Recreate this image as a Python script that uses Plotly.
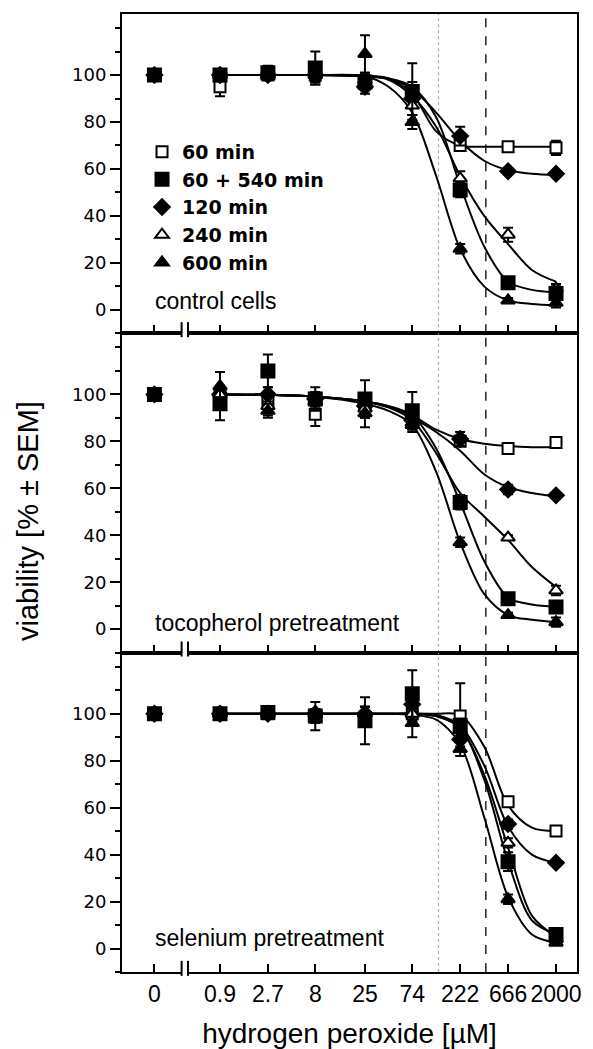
import plotly.graph_objects as go
from plotly.subplots import make_subplots

# ---------------- data ----------------
DOSES = [0, 0.9, 2.7, 8, 25, 74, 222, 666, 2000]
DOSE_LABELS = ["0", "0.9", "2.7", "8", "25", "74", "222", "666", "2000"]
CURVE_DOSES = [0.9, 2.7, 8, 25, 43, 74, 128, 222, 385, 666, 1150, 2000]
SERIES = ["60 min", "60 + 540 min", "120 min", "240 min", "600 min"]
PANELS = ["control cells", "tocopherol pretreatment", "selenium pretreatment"]
REF_DOTTED = 135     # µM, dotted reference line
REF_DASHED = 400     # µM, dashed reference line

# control cells
control_60 = [100, 95, 100, 100, 97, 93, 70, 69.5, 69]
control_60_err = [0, 4, 2, 3, 3, 4, 2, 1, 3]
control_60_540 = [100, 100, 101, 103, 97, 93, 51, 11.5, 7]
control_60_540_err = [0, 2, 3, 7, 3, 12, 3, 2, 3]
control_120 = [100, 100, 100, 100, 95, 90, 74, 59, 58]
control_120_err = [0, 1, 2, 3, 3, 4, 4, 1, 1]
control_240 = [100, 100, 100, 100, 98, 87, 56, 32, 9]
control_240_err = [0, 1, 2, 3, 3, 4, 3, 3, 2]
control_600 = [100, 100, 100, 100, 109, 80, 26, 4, 3]
control_600_err = [0, 1, 2, 4, 8, 3, 2, 1, 2]

control_60_fit = [100, 100, 100, 99.8, 98.5, 92, 76, 70, 69.5, 69.5, 69.5, 69.5]
control_60_540_fit = [100, 100, 100, 99.5, 98.5, 95, 82, 53, 27, 12, 8.5, 7.5]
control_120_fit = [100, 100, 100, 99.5, 98.5, 94, 84, 72, 63.5, 59.5, 58, 57.5]
control_240_fit = [100, 100, 100, 99.5, 98, 91, 78, 57, 40, 28, 17, 12]
control_600_fit = [100, 100, 100, 99.5, 95, 84, 57, 26, 10, 4, 2.5, 2]

# tocopherol pretreatment
toco_60 = [100, 100, 97, 91.5, 96, 91, 80, 77, 79.5]
toco_60_err = [0, 3, 3, 5, 3, 3, 2, 2, 2]
toco_60_540 = [100, 96, 110, 98, 98, 93, 54, 13, 9.5]
toco_60_540_err = [0, 7, 7, 5, 8, 8, 3, 2, 2]
toco_120 = [100, 100, 100, 98, 95, 89, 81, 59.5, 57]
toco_120_err = [0, 3, 3, 3, 3, 3, 3, 2, 1]
toco_240 = [100, 100, 95, 97, 94, 88, 55, 39, 16.5]
toco_240_err = [0, 3, 4, 3, 4, 3, 2, 1, 2]
toco_600 = [100, 103.5, 93, 97, 92, 87, 37, 6, 3]
toco_600_err = [0, 6, 3, 3, 6, 3, 2, 1, 2]

toco_60_fit = [100, 99.8, 99, 97, 95, 91, 85, 81, 79, 78, 77.5, 77.5]
toco_60_540_fit = [100, 99.8, 99, 97, 95, 91, 77, 54, 29, 13.5, 10.5, 9.5]
toco_120_fit = [100, 99.8, 99, 97, 94.5, 90, 84, 76, 66, 60.5, 58, 56.5]
toco_240_fit = [100, 99.8, 99, 97, 94.5, 89, 75, 58, 48, 38, 26.5, 18]
toco_600_fit = [100, 99.8, 99, 96, 93, 87, 67, 37, 15, 6, 4, 3]

# selenium pretreatment
sel_60 = [100, 100, 100, 99, 98, 100, 99, 62.5, 50]
sel_60_err = [0, 1, 1, 3, 3, 3, 14, 2, 1]
sel_60_540 = [100, 100, 100.5, 99, 97, 108.5, 95, 37, 6]
sel_60_540_err = [0, 1, 2, 6, 10, 10, 3, 4, 2]
sel_120 = [100, 100, 100, 100, 100, 104, 89, 53, 36.5]
sel_120_err = [0, 1, 1, 2, 3, 3, 3, 2, 1]
sel_240 = [100, 100, 100, 100, 100, 100, 93, 45, 4]
sel_240_err = [0, 1, 1, 2, 3, 3, 3, 2, 1]
sel_600 = [100, 100, 100, 100, 100, 96, 85, 21, 2.5]
sel_600_err = [0, 1, 1, 2, 3, 6, 3, 2, 1]

sel_60_fit = [100, 100, 100, 100, 100, 100, 100, 99.5, 86, 61, 51.5, 50]
sel_60_540_fit = [100, 100, 100, 100, 100, 100, 99, 94, 72, 37, 12, 6]
sel_120_fit = [100, 100, 100, 100, 100, 100, 99.5, 95, 78, 52, 40, 36.5]
sel_240_fit = [100, 100, 100, 100, 100, 100, 99, 94, 74, 43, 14, 5]
sel_600_fit = [100, 100, 100, 100, 100, 99.5, 97.5, 87, 56, 22, 6, 2.5]

PANEL_DATA = [
    [(control_60, control_60_err, control_60_fit),
     (control_60_540, control_60_540_err, control_60_540_fit),
     (control_120, control_120_err, control_120_fit),
     (control_240, control_240_err, control_240_fit),
     (control_600, control_600_err, control_600_fit)],
    [(toco_60, toco_60_err, toco_60_fit),
     (toco_60_540, toco_60_540_err, toco_60_540_fit),
     (toco_120, toco_120_err, toco_120_fit),
     (toco_240, toco_240_err, toco_240_fit),
     (toco_600, toco_600_err, toco_600_fit)],
    [(sel_60, sel_60_err, sel_60_fit),
     (sel_60_540, sel_60_540_err, sel_60_540_fit),
     (sel_120, sel_120_err, sel_120_fit),
     (sel_240, sel_240_err, sel_240_fit),
     (sel_600, sel_600_err, sel_600_fit)],
]

# ---------------- styling ----------------
ZERO_POS = 0.2  # where dose 0 sits on the broken log axis
SYMBOLS = ["square", "square", "diamond", "triangle-up", "triangle-up"]
FILLS = ["white", "black", "black", "white", "black"]
SIZES = [11, 13, 12, 12, 12]
DRAW_ORDER = [0, 2, 3, 4, 1]   # filled squares drawn on top
Y_MIN, Y_MAX = -10, 126
X_RANGE = [-1.022, 3.51]


def xpos(d):
    return ZERO_POS if d == 0 else d


fig = make_subplots(rows=3, cols=1, shared_xaxes=True, vertical_spacing=0)

for r in range(3):
    row = r + 1
    # reference lines
    fig.add_trace(go.Scatter(x=[REF_DOTTED, REF_DOTTED], y=[Y_MIN, Y_MAX], mode="lines",
                             line=dict(color="#aaaaaa", width=1.2, dash="dot"),
                             showlegend=False, hoverinfo="skip"), row=row, col=1)
    fig.add_trace(go.Scatter(x=[REF_DASHED, REF_DASHED], y=[Y_MIN, Y_MAX], mode="lines",
                             line=dict(color="black", width=1.3, dash="dash"),
                             showlegend=False, hoverinfo="skip"), row=row, col=1)
    # fitted curves
    for i, (vals, errs, fit) in enumerate(PANEL_DATA[r]):
        fig.add_trace(go.Scatter(x=CURVE_DOSES, y=fit, mode="lines",
                                 line=dict(color="black", width=2, shape="spline", smoothing=0.9),
                                 showlegend=False, hoverinfo="skip"), row=row, col=1)
    # data points
    for i in DRAW_ORDER:
        vals, errs, fit = PANEL_DATA[r][i]
        fig.add_trace(go.Scatter(
            x=[xpos(d) for d in DOSES], y=vals, mode="markers",
            name=SERIES[i], legendgroup=SERIES[i], legendrank=i + 1, showlegend=(r == 0),
            marker=dict(symbol=SYMBOLS[i], size=SIZES[i], color=FILLS[i],
                        line=dict(color="black", width=2)),
            error_y=dict(type="data", array=errs, visible=True, color="black",
                         thickness=2, width=5),
        ), row=row, col=1)

tickvals = [xpos(d) for d in DOSES]
for r in range(3):
    row = r + 1
    fig.update_xaxes(type="log", range=X_RANGE, tickvals=tickvals, ticktext=DOSE_LABELS,
                     ticks="inside", ticklen=8, tickwidth=2, tickcolor="black",
                     showline=True, linewidth=2, linecolor="black", mirror=True,
                     showgrid=False, zeroline=False, tickangle=0,
                     tickfont=dict(family="Liberation Sans", size=23, color="black"),
                     row=row, col=1)
    fig.update_yaxes(range=[Y_MIN, Y_MAX], tickvals=[0, 20, 40, 60, 80, 100],
                     ticks="outside", ticklen=10, tickwidth=2, tickcolor="black",
                     minor=dict(dtick=10, ticklen=5, tickwidth=1.5, ticks="outside", tickcolor="black"),
                     showline=True, linewidth=2, linecolor="black", mirror=True,
                     showgrid=False, zeroline=False,
                     tickfont=dict(family="DejaVu Sans", size=18, color="black"),
                     row=row, col=1)

fig.update_xaxes(title=dict(text="hydrogen peroxide [µM]", standoff=18,
                            font=dict(family="Liberation Sans", size=28, color="black")),
                 row=3, col=1)

# axis break marks on the bottom axis of each panel
shapes = []
for xa, ya in [("x", "y"), ("x2", "y2"), ("x3", "y3")]:
    shapes.append(dict(type="rect", xref=f"{xa} domain", yref=f"{ya} domain",
                       x0=0.131, x1=0.145, y0=-0.008, y1=0.008,
                       fillcolor="white", line=dict(width=0), layer="above"))
    for bx in (0.131, 0.145):
        shapes.append(dict(type="line", xref=f"{xa} domain", yref=f"{ya} domain",
                           x0=bx, x1=bx, y0=-0.012, y1=0.035,
                           line=dict(color="black", width=2), layer="above"))

annotations = []
for (ya, ypos, label) in [("y", 0.10, PANELS[0]), ("y2", 0.094, PANELS[1]), ("y3", 0.106, PANELS[2])]:
    annotations.append(dict(text=label, xref="paper", yref=f"{ya} domain", x=0.068, y=ypos,
                            xanchor="left", yanchor="middle", showarrow=False,
                            font=dict(family="Liberation Sans", size=23, color="black")))
annotations.append(dict(text="viability [% ± SEM]", xref="paper", yref="paper",
                        x=-0.206, y=0.471, xanchor="center", yanchor="middle",
                        textangle=-90, showarrow=False,
                        font=dict(family="Liberation Sans", size=29, color="black")))

# page body has an 8 px margin; figure size and margins compensate for it
fig.update_layout(
    width=585, height=1041,
    margin=dict(l=114, r=16, t=4, b=77),
    plot_bgcolor="white", paper_bgcolor="white",
    shapes=shapes, annotations=annotations,
    legend=dict(x=0.044, y=0.876, xanchor="left", yanchor="top",
                bgcolor="rgba(0,0,0,0)", tracegroupgap=0,
                font=dict(family="DejaVu Sans", size=19, color="black", weight="bold")),
)

fig.write_html("out.html")
